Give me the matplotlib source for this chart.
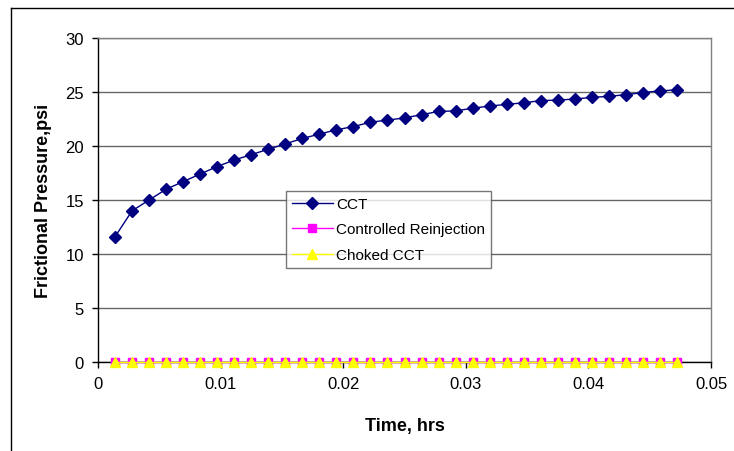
import matplotlib
matplotlib.use('Agg')
import matplotlib.pyplot as plt
from matplotlib.lines import Line2D

plt.rcParams['font.family'] = ['Liberation Sans', 'DejaVu Sans']

# DATA
# ================================================================================

time_hrs = [0.00139, 0.00278, 0.00417, 0.00556, 0.00694, 0.00833, 0.00972, 0.01111,
            0.0125, 0.01389, 0.01528, 0.01667, 0.01806, 0.01944, 0.02083, 0.02222,
            0.02361, 0.025, 0.02639, 0.02778, 0.02917, 0.03056, 0.03194, 0.03333,
            0.03472, 0.03611, 0.0375, 0.03889, 0.04028, 0.04167, 0.04306, 0.04444,
            0.04583, 0.04722]

cct = [11.6, 14.0, 15.0, 16.0, 16.7, 17.4, 18.1, 18.7, 19.2, 19.7, 20.2, 20.7,
       21.1, 21.5, 21.8, 22.2, 22.4, 22.6, 22.9, 23.2, 23.25, 23.5, 23.7, 23.85,
       24.0, 24.2, 24.25, 24.35, 24.5, 24.6, 24.75, 24.95, 25.1, 25.2]

controlled_reinjection = [0.0] * 34
choked_cct = [0.0] * 34

x_ticks = [0, 0.01, 0.02, 0.03, 0.04, 0.05]
x_tick_labels = ['0', '0.01', '0.02', '0.03', '0.04', '0.05']
y_ticks = [0, 5, 10, 15, 20, 25, 30]


# PLOT
# ================================================================================

fig = plt.figure(figsize=(7.34, 4.52), dpi=100)
ax = fig.add_axes([98 / 734, 1 - 363 / 452, 613 / 734, 324 / 452])

ax.plot(time_hrs, cct, color='#000080', linewidth=1, marker='D', markersize=6.5,
        label='CCT', clip_on=False, zorder=4)
ax.plot(time_hrs, controlled_reinjection, color='#ff00ff', linewidth=1, marker='s',
        markersize=6, label='Controlled Reinjection', clip_on=False, zorder=4)
ax.plot(time_hrs, choked_cct, color='#ffff00', linewidth=1, marker='^', markersize=7,
        label='Choked CCT', clip_on=False, zorder=5)

ax.set_xlim(0, 0.05)
ax.set_ylim(0, 30)
ax.set_xticks(x_ticks)
ax.set_xticklabels(x_tick_labels)
ax.set_yticks(y_ticks)
ax.tick_params(direction='out', length=4, width=1, labelsize=12, colors='black', pad=6)
ax.yaxis.grid(True, color='#666666', linewidth=1)
ax.set_axisbelow(True)

ax.spines['left'].set_color('black')
ax.spines['bottom'].set_color('black')
ax.spines['top'].set_color('#808080')
ax.spines['right'].set_color('#808080')
for s in ax.spines.values():
    s.set_linewidth(1)

ax.set_xlabel('Time, hrs', fontsize=13, fontweight='bold', labelpad=19)
ax.set_ylabel('Frictional Pressure,psi', fontsize=13, fontweight='bold', labelpad=10)

leg = ax.legend(loc='upper left', bbox_to_anchor=(0.306, 0.528), borderaxespad=0,
                fontsize=11, frameon=True, fancybox=False, edgecolor='#555555',
                handlelength=2.7, handletextpad=0.2, labelspacing=0.75,
                borderpad=0.4)
leg.get_frame().set_linewidth(1)

# Outer chart frame (left and top edges)
fig.add_artist(Line2D([11 / 734, 11 / 734], [0, 1 - 9 / 452], transform=fig.transFigure,
                      color='black', linewidth=1))
fig.add_artist(Line2D([11 / 734, 1], [1 - 9 / 452, 1 - 9 / 452], transform=fig.transFigure,
                      color='black', linewidth=1))

fig.savefig('out.png', dpi=100)
